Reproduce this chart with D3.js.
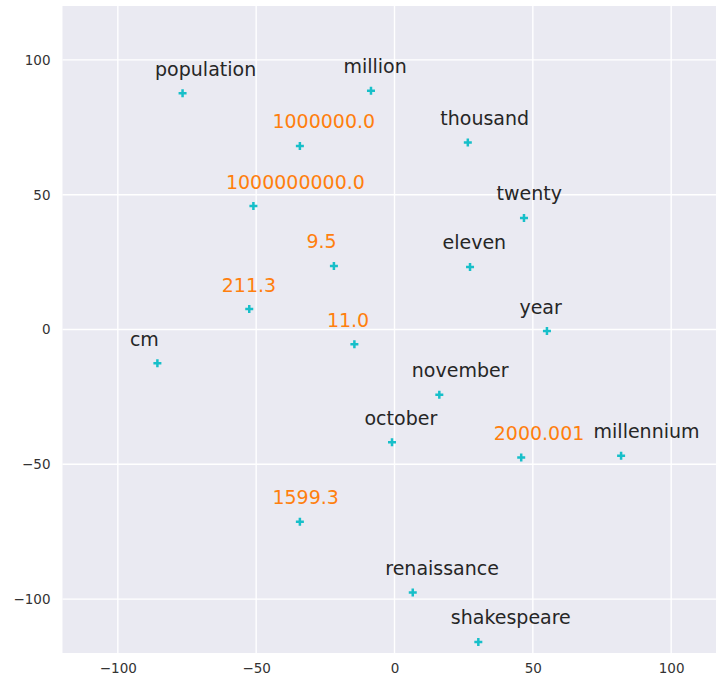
<!DOCTYPE html>
<meta charset="utf-8">
<style>
  body { margin: 0; background: #fff; }
  text { font-family: "DejaVu Sans", sans-serif; }
</style>
<svg width="716" height="684"></svg>
<script src="https://cdn.jsdelivr.net/npm/d3@7"></script>
<script>
// words and their 2-d coordinates (numbers drawn in orange)
var labels = ["population", "million", "1000000.0", "thousand", "1000000000.0", "twenty",
              "9.5", "eleven", "211.3", "11.0", "year", "cm", "november", "october",
              "2000.001", "millennium", "1599.3", "renaissance", "shakespeare"];
var xs = [-76.6, -8.5, -34.2, 26.5, -51.0, 46.8, -21.9, 27.3, -52.5, -14.5, 55.1, -85.7,
          16.2, -0.9, 45.8, 81.9, -34.2, 6.6, 30.3];
var ys = [87.6, 88.6, 68.1, 69.4, 45.8, 41.4, 23.6, 23.2, 7.6, -5.5, -0.6, -12.5,
          -24.2, -41.8, -47.5, -46.8, -71.3, -97.6, -115.9];
var isNumber = [false, false, true, false, true, false, true, false, true, true, false, false,
                false, false, true, false, true, false, false];
var xTicks = [-100, -50, 0, 50, 100];
var yTicks = [-100, -50, 0, 50, 100];

var points = labels.map(function(l, i) { return {label: l, x: xs[i], y: ys[i], num: isNumber[i]}; });

var svg = d3.select("svg");
var pLeft = 62.5, pRight = 726.5, pTop = 6, pBottom = 653;

var x = d3.scaleLinear().domain([-120, 120]).range([pLeft, pRight]);
var y = d3.scaleLinear().domain([-120, 120]).range([pBottom, pTop]);

svg.append("rect")
    .attr("x", pLeft).attr("y", pTop)
    .attr("width", pRight - pLeft).attr("height", pBottom - pTop)
    .attr("fill", "#eaeaf2");

// grid lines
var grid = svg.append("g");
grid.selectAll(".gx").data(xTicks).enter().append("line")
    .attr("x1", function(d) { return x(d); }).attr("x2", function(d) { return x(d); })
    .attr("y1", pTop).attr("y2", pBottom)
    .attr("stroke", "#fff").attr("stroke-width", 1.4);
grid.selectAll(".gy").data(yTicks).enter().append("line")
    .attr("y1", function(d) { return y(d); }).attr("y2", function(d) { return y(d); })
    .attr("x1", pLeft).attr("x2", pRight)
    .attr("stroke", "#fff").attr("stroke-width", 1.4);

// axes (no lines, just labels)
var fmt = function(d) { return d < 0 ? "\u2212" + Math.abs(d) : d; };
var xAxis = svg.append("g")
    .attr("transform", "translate(0," + pBottom + ")")
    .call(d3.axisBottom(x).tickValues(xTicks).tickSize(0).tickPadding(10).tickFormat(fmt));
var yAxis = svg.append("g")
    .attr("transform", "translate(" + pLeft + ",0)")
    .call(d3.axisLeft(y).tickValues(yTicks).tickSize(0).tickPadding(12).tickFormat(fmt));
[xAxis, yAxis].forEach(function(a) {
    a.select(".domain").remove();
    a.selectAll("text")
        .attr("font-family", "DejaVu Sans, sans-serif")
        .attr("font-size", 13.5)
        .attr("fill", "#333");
});

var plot = svg.append("g");

// "+" markers
var m = 4;
plot.selectAll("path.mark").data(points).enter().append("path")
    .attr("class", "mark")
    .attr("d", function(d) {
        var px = x(d.x), py = y(d.y);
        return "M" + (px - m) + "," + py + "H" + (px + m) + "M" + px + "," + (py - m) + "V" + (py + m);
    })
    .attr("stroke", "#17bfc9")
    .attr("stroke-width", 2.5)
    .attr("fill", "none");

// labels above-left of each point
plot.selectAll("text.lab").data(points).enter().append("text")
    .attr("class", "lab")
    .attr("x", function(d) { return x(d.x) - 27.5; })
    .attr("y", function(d) { return y(d.y) - 17.5; })
    .attr("font-size", 19)
    .attr("fill", function(d) { return d.num ? "#ff7f0e" : "#262626"; })
    .text(function(d) { return d.label; });
</script>
